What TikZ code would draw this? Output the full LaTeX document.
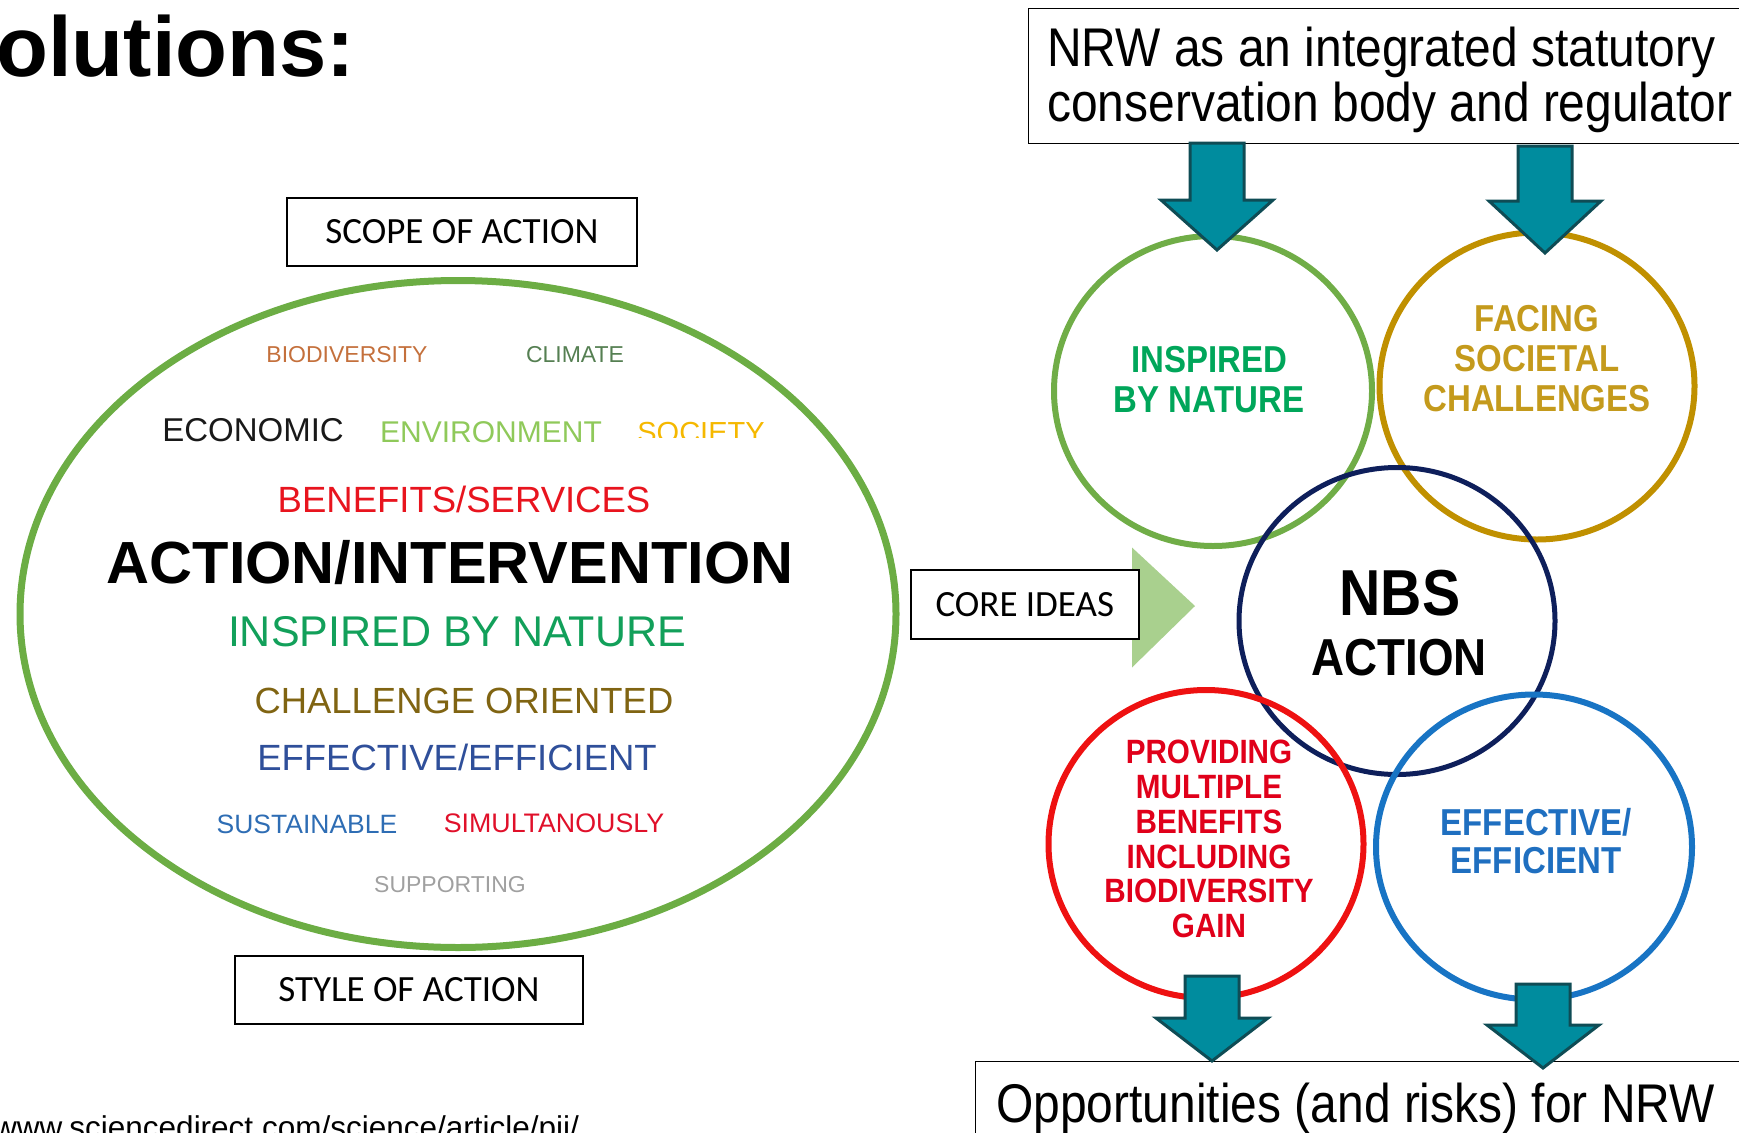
\documentclass[tikz,border=0pt]{standalone}
\usepackage{fontspec}
\setmainfont{Liberation Sans}
\newfontfamily\narrowsans[FakeStretch=0.88]{Liberation Sans}
\newfontfamily\calib{Carlito}
\usetikzlibrary{shapes.geometric,calc}
\newcommand{\pxsize}[1]{\fontsize{#1pt}{#1pt}\selectfont}
\newcommand{\pxsizel}[2]{\fontsize{#1pt}{#2pt}\selectfont}
\definecolor{ellgreen}{HTML}{6CAD44}
\definecolor{cbio}{HTML}{C4703C}
\definecolor{cclim}{HTML}{557F52}
\definecolor{cenv}{HTML}{8FC95A}
\definecolor{csoc}{HTML}{F5B800}
\definecolor{cben}{HTML}{E8141E}
\definecolor{cinsp}{HTML}{12A05A}
\definecolor{cchal}{HTML}{806412}
\definecolor{ceff}{HTML}{2F4F9A}
\definecolor{csus}{HTML}{2E6DB4}
\definecolor{csim}{HTML}{E0102A}
\definecolor{csup}{HTML}{A0A0A0}
\definecolor{coregreen}{HTML}{A9D08E}
\definecolor{ringgreen}{HTML}{70AD47}
\definecolor{ringgold}{HTML}{C09000}
\definecolor{ringnavy}{HTML}{0E1F5B}
\definecolor{ringred}{HTML}{EE1111}
\definecolor{ringblue}{HTML}{1874C4}
\definecolor{txtgreen}{HTML}{00A65A}
\definecolor{txtgold}{HTML}{C49A1C}
\definecolor{txtred}{HTML}{E0001A}
\definecolor{txtblue}{HTML}{1F6FC0}
\definecolor{tealfill}{HTML}{008C9E}
\definecolor{tealline}{HTML}{0F4C55}
\newcommand{\tealblock}[3]{\draw[tealblk] ($(#1)+(-27,0)$) -- ($(#1)+(27,0)$) -- ($(#2)+(27,-#3)$) -- ($(#2)+(56,-#3)$) -- (#2) -- ($(#2)+(-56,-#3)$) -- ($(#2)+(-27,-#3)$) -- cycle;}
\begin{document}
\begin{tikzpicture}[x=1pt,y=-1pt,
  lbl/.style={inner sep=0pt, anchor=center},
  boxlbl/.style={draw=black, line width=2.4pt, fill=white, inner sep=0pt, font=\calib\pxsize{37}},
  ring/.style={ellipse, draw, inner sep=0pt, line width=6pt},
  tealblk/.style={fill=tealfill, draw=tealline, line width=3pt, line join=miter},
  ctext/.style={inner sep=0pt, align=center, font=\narrowsans\bfseries\pxsizel{37.5}{40}}]
\useasboundingbox (0,0) rectangle (1739,1132);
\clip (0,0) rectangle (1739,1132);

% title
\node[inner sep=0, anchor=base west, font=\bfseries\pxsize{85}] (title) at (-4,76) {olutions:};

% left diagram
\node[ellipse, draw=ellgreen, line width=7pt, minimum width=876, minimum height=667, inner sep=0] (ell) at (458,614) {};
\node[boxlbl, minimum width=350, minimum height=68] (scope) at (462,232) {SCOPE OF ACTION};
\node[boxlbl, minimum width=348, minimum height=68] (style) at (409,990) {STYLE OF ACTION};

\node[lbl, text=cbio, font=\pxsize{23}] (bio) at (347,355) {BIODIVERSITY};
\node[lbl, text=cclim, font=\pxsize{23}] (clim) at (575,355) {CLIMATE};
\node[lbl, text=black!90, font=\pxsize{33}] (econ) at (253,430) {ECONOMIC};
\node[lbl, text=cenv, font=\pxsize{30}] (env) at (491,432) {ENVIRONMENT};
\begin{scope}
\clip (600,400) rectangle (800,437);
\node[lbl, text=csoc, font=\pxsize{29}] (soc) at (701,433) {SOCIETY};
\end{scope}
\node[lbl, text=cben, font=\pxsize{36.5}] (ben) at (464,499) {BENEFITS/SERVICES};
\node[lbl, text=black, font=\bfseries\pxsize{59.5}] (actint) at (450,563) {ACTION/INTERVENTION};
\node[lbl, text=cinsp, font=\pxsize{43}] (insp) at (457,632) {INSPIRED BY NATURE};
\node[lbl, text=cchal, font=\pxsize{36.4}] (chal) at (464,701) {CHALLENGE ORIENTED};
\node[lbl, text=ceff, font=\pxsize{36.5}] (effi) at (457,757) {EFFECTIVE/EFFICIENT};
\node[lbl, text=csus, font=\pxsize{26.5}] (sus) at (307,824) {SUSTAINABLE};
\node[lbl, text=csim, font=\pxsize{26.8}] (sim) at (554,823) {SIMULTANOUSLY};
\node[lbl, text=csup, font=\pxsize{23}] (sup) at (450,885) {SUPPORTING};

% core ideas arrow
\coordinate (coreE) at (1140,604.5);
\fill[coregreen] ($(coreE)+(-8,-57)$) -- ($(coreE)+(55,1.5)$) -- ($(coreE)+(-8,63)$) -- cycle;
\node[boxlbl, minimum width=228, minimum height=69, anchor=east] (core) at (coreE) {CORE IDEAS};

% URL
\node[inner sep=0, anchor=base west, font=\pxsize{31.5}] (url) at (-6,1138) {www.sciencedirect.com/science/article/pii/};

% right diagram: circles
\node[ring, draw=ringgreen, minimum width=318, minimum height=310] (gc) at (1213,391) {};
\node[ring, draw=ringgold, minimum width=315, minimum height=307] (yc) at (1537,386) {};
\node[ring, draw=ringnavy, line width=5pt, minimum width=316, minimum height=307] (nc) at (1397,621) {};
\node[ring, draw=ringred, minimum width=315, minimum height=308] (rc) at (1206,844) {};
\node[ring, draw=ringblue, minimum width=316, minimum height=305] (bc) at (1534,847) {};

\node[ctext, text=txtgreen] (gct) at (1209,380) {INSPIRED\\BY NATURE};
\node[ctext, text=txtgold] (yct) at (1537,359) {FACING\\SOCIETAL\\CHALLENGES};
\node[inner sep=0, font=\narrowsans\bfseries\pxsize{65}] (nbs) at (1400,593) {NBS};
\node[inner sep=0, font=\narrowsans\bfseries\pxsize{52}] (act) at (1399,658) {ACTION};
\node[ctext, text=txtred, font=\narrowsans\bfseries\pxsizel{33.7}{34.8}] (rct) at (1209,839) {PROVIDING\\MULTIPLE\\BENEFITS\\INCLUDING\\BIODIVERSITY\\GAIN};
\node[ctext, text=txtblue, font=\narrowsans\bfseries\pxsizel{37.5}{38}] (bct) at (1536,841) {EFFECTIVE/\\EFFICIENT};

% NRW box
\node[draw, fill=white, line width=1.3pt, minimum width=760, minimum height=135, anchor=north west, inner sep=0] (nrw) at (1028,8) {};
\node[inner sep=0, anchor=north west, align=left, font=\narrowsans\pxsizel{54.5}{55}] (nrwt) at (1047,27) {NRW as an integrated statutory\\conservation body and regulator};

% bottom box
\node[draw, fill=white, line width=1.3pt, minimum width=800, minimum height=120, anchor=north west, inner sep=0] (opp) at (975,1061) {};
\node[inner sep=0, anchor=base west, font=\narrowsans\pxsize{54.5}] (oppt) at (996,1122) {Opportunities (and risks) for NRW};

% teal arrows
\coordinate (a1s) at (1217,143); \coordinate (a1e) at (1217,250);
\coordinate (a2s) at (1545,146); \coordinate (a2e) at (1545,253);
\coordinate (a3s) at (1212,976); \coordinate (a3e) at (1212,1061);
\coordinate (a4s) at (1543,984); \coordinate (a4e) at (1543,1068);
\tealblock{a1s}{a1e}{50}
\tealblock{a2s}{a2e}{52}
\tealblock{a3s}{a3e}{43}
\tealblock{a4s}{a4e}{43}
\end{tikzpicture}
\end{document}
